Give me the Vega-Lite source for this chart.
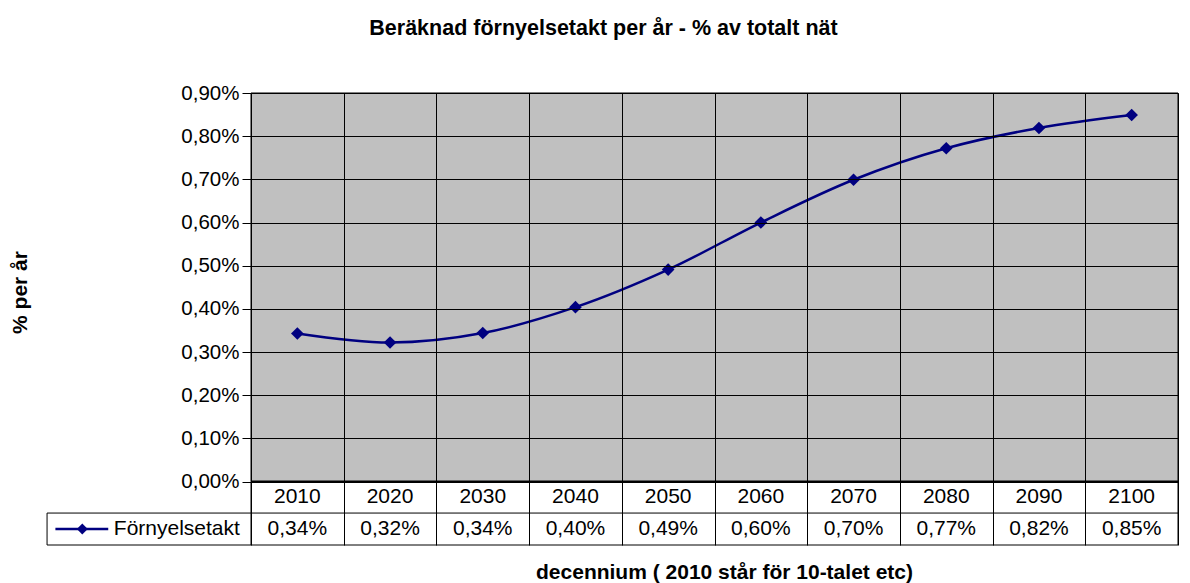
{
  "$schema": "https://vega.github.io/schema/vega-lite/v6.json",
  "width": 927,
  "height": 452,
  "autosize": {"type": "none"},
  "padding": {"left": 251, "top": 93, "right": 12, "bottom": 38},
  "background": "white",
  "title": {
    "text": "Beräknad förnyelsetakt per år - % av totalt nät",
    "font": "Liberation Sans",
    "fontSize": 21.5,
    "fontWeight": "bold",
    "color": "black",
    "anchor": "middle",
    "frame": "group",
    "dx": -111,
    "offset": 44
  },
  "config": {
    "locale": {"number": {"decimal": ",", "thousands": " ", "grouping": [3], "currency": ["", " kr"]}},
    "view": {"stroke": null},
    "font": "Liberation Sans"
  },
  "datasets": {
    "series": [
      {"year": 2010, "value": 0.00343},
      {"year": 2020, "value": 0.00322},
      {"year": 2030, "value": 0.00344},
      {"year": 2040, "value": 0.00404},
      {"year": 2050, "value": 0.00491},
      {"year": 2060, "value": 0.00600},
      {"year": 2070, "value": 0.00699},
      {"year": 2080, "value": 0.00772},
      {"year": 2090, "value": 0.00819},
      {"year": 2100, "value": 0.00849}
    ],
    "one": [{"series": "Förnyelsetakt"}]
  },
  "layer": [
    {
      "data": {"name": "one"},
      "mark": {"type": "rect", "fill": "#C0C0C0", "stroke": "black", "strokeWidth": 1},
      "encoding": {
        "x": {"datum": 2005, "type": "quantitative",
          "scale": {"domain": [2005, 2105], "nice": false, "zero": false},
          "axis": {"values": [2005, 2015, 2025, 2035, 2045, 2055, 2065, 2075, 2085, 2095, 2105],
            "grid": true, "gridColor": "black", "gridOpacity": 1, "gridWidth": 1,
            "labels": false, "ticks": false, "domain": false, "zindex": 1,
            "title": "decennium ( 2010 står för 10-talet etc)",
            "titleFont": "Liberation Sans", "titleFontSize": 21, "titleFontWeight": "bold",
            "titleColor": "black", "titlePadding": 16, "titleX": 473}},
        "x2": {"datum": 2105},
        "y": {"datum": 0, "type": "quantitative",
          "scale": {"domain": [-0.00147, 0.009], "nice": false, "zero": false},
          "axis": {"values": [0, 0.001, 0.002, 0.003, 0.004, 0.005, 0.006, 0.007, 0.008, 0.009],
            "format": ".2%", "grid": true, "gridColor": "black", "gridOpacity": 1, "gridWidth": 1,
            "domain": false, "ticks": true, "tickSize": 9, "tickColor": "black", "tickWidth": 1,
            "labelFont": "Liberation Sans", "labelFontSize": 20.5, "labelColor": "black", "labelPadding": 3,
            "zindex": 1,
            "title": "% per år", "titleFont": "Liberation Sans", "titleFontSize": 21,
            "titleFontWeight": "bold", "titleColor": "black", "titleAngle": -90,
            "titleX": -231, "titleY": 199, "titleAlign": "center", "titleBaseline": "middle"}},
        "y2": {"datum": 0.009}
      }
    },
    {
      "data": {"name": "one"},
      "mark": {"type": "rect", "fill": "white", "stroke": "black", "strokeWidth": 1},
      "encoding": {
        "x": {"datum": 2005, "type": "quantitative"},
        "x2": {"datum": 2105},
        "y": {"datum": -0.00147, "type": "quantitative"},
        "y2": {"datum": 0}
      }
    },
    {
      "data": {"name": "one"},
      "mark": {"type": "rect", "fill": "white", "stroke": "black", "strokeWidth": 1},
      "encoding": {
        "x": {"datum": 1983.0, "type": "quantitative"},
        "x2": {"datum": 2005},
        "y": {"datum": -0.00147, "type": "quantitative"},
        "y2": {"datum": -0.00073}
      }
    },
    {
      "data": {"name": "one"},
      "mark": {"type": "rule", "stroke": "black", "strokeWidth": 1},
      "encoding": {
        "x": {"datum": 2005, "type": "quantitative"},
        "x2": {"datum": 2105},
        "y": {"datum": -0.00073, "type": "quantitative"}
      }
    },
    {
      "data": {"name": "one"},
      "mark": {"type": "rule", "stroke": "black", "strokeWidth": 2},
      "encoding": {
        "x": {"datum": 2005, "type": "quantitative"},
        "x2": {"datum": 2105},
        "y": {"datum": 0, "type": "quantitative"}
      }
    },
    {
      "data": {"name": "series"},
      "mark": {"type": "line", "color": "#000080", "strokeWidth": 2.5, "interpolate": "catmull-rom"},
      "encoding": {
        "x": {"field": "year", "type": "quantitative", "title": "decennium ( 2010 står för 10-talet etc)"},
        "y": {"field": "value", "type": "quantitative", "title": "% per år"}
      }
    },
    {
      "data": {"name": "series"},
      "mark": {"type": "point", "shape": "diamond", "filled": true, "color": "#000080", "size": 160, "opacity": 1},
      "encoding": {
        "x": {"field": "year", "type": "quantitative", "title": "decennium ( 2010 står för 10-talet etc)"},
        "y": {"field": "value", "type": "quantitative", "title": "% per år"}
      }
    },
    {
      "data": {"name": "series"},
      "mark": {"type": "text", "font": "Liberation Sans", "fontSize": 21, "color": "black", "baseline": "middle", "align": "center"},
      "encoding": {
        "x": {"field": "year", "type": "quantitative", "title": "decennium ( 2010 står för 10-talet etc)"},
        "y": {"datum": -0.000358, "type": "quantitative"},
        "text": {"field": "year", "type": "nominal"}
      }
    },
    {
      "data": {"name": "series"},
      "mark": {"type": "text", "font": "Liberation Sans", "fontSize": 21, "color": "black", "baseline": "middle", "align": "center"},
      "encoding": {
        "x": {"field": "year", "type": "quantitative", "title": "decennium ( 2010 står för 10-talet etc)"},
        "y": {"datum": -0.0011, "type": "quantitative"},
        "text": {"field": "value", "type": "quantitative", "format": ".2%"}
      }
    },
    {
      "data": {"name": "one"},
      "mark": {"type": "rule", "stroke": "#000080", "strokeWidth": 2.5},
      "encoding": {
        "x": {"datum": 1983.9, "type": "quantitative"},
        "x2": {"datum": 1989.6},
        "y": {"datum": -0.0011, "type": "quantitative"}
      }
    },
    {
      "data": {"name": "one"},
      "mark": {"type": "point", "shape": "diamond", "filled": true, "color": "#000080", "size": 120, "opacity": 1},
      "encoding": {
        "x": {"datum": 1986.8, "type": "quantitative"},
        "y": {"datum": -0.0011, "type": "quantitative"}
      }
    },
    {
      "data": {"name": "one"},
      "mark": {"type": "text", "font": "Liberation Sans", "fontSize": 21, "color": "black", "baseline": "middle", "align": "left"},
      "encoding": {
        "x": {"datum": 1990.2, "type": "quantitative"},
        "y": {"datum": -0.0011, "type": "quantitative"},
        "text": {"field": "series", "type": "nominal"}
      }
    }
  ]
}
